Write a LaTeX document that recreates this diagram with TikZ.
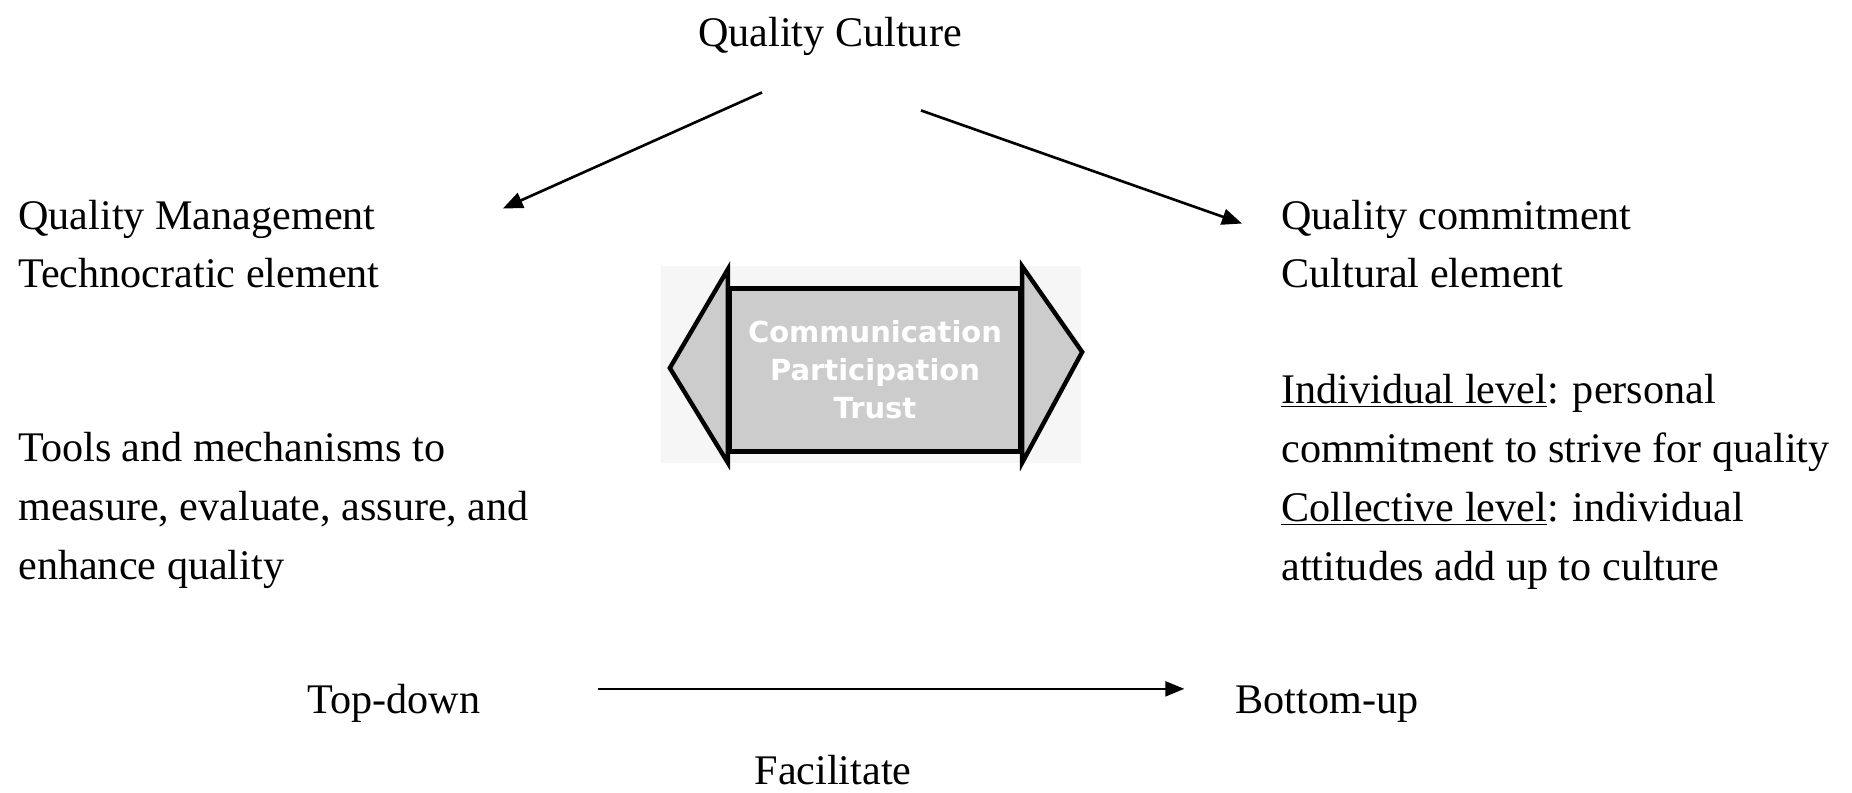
\documentclass[tikz,border=0pt]{standalone}
\usepackage{fontspec}
\setmainfont{Liberation Serif}
\newfontfamily\hubfont{DejaVu Sans}
\usepackage{tikz}
\usetikzlibrary{arrows.meta}
\tikzstyle{txt} = [inner sep=0pt, align=left, anchor=base west,
  font=\fontsize{24}{33.5}\selectfont]
\tikzstyle{ctxt} = [txt, anchor=base]
\tikzstyle{hubbox} = [rectangle, draw, line width=2.5pt, fill=gray!40,
  minimum width=5.8cm, minimum height=3.26cm, inner sep=0pt, align=center,
  text=white, font=\hubfont\bfseries\fontsize{16.5}{21.6}\selectfont]
\tikzstyle{head} = [draw, line width=2.5pt, fill=gray!40]
\tikzstyle{link} = [draw, line width=1.5pt, -{Triangle[length=0.4cm,width=0.32cm]}]
\tikzstyle{flow} = [draw, line width=1.3pt, -{Triangle[length=0.38cm,width=0.3cm]}]

\begin{document}
\begin{tikzpicture}[x=0.02cm, y=-0.02cm]
    \useasboundingbox (0,0) rectangle (1852,793);
    \fill[gray!7] (661,266) rectangle (1081,463);

    % base of a multi-line node = baseline of its last line
    \node[ctxt] (qc) at (830,47) {Quality Culture};
    \node[txt] (qm) at (18,288) {Quality Management\\Technocratic element};
    \node[txt] (tools) at (18,579) {Tools and mechanisms to\\measure, evaluate, assure, and\\enhance quality};
    \node[txt] (qcm) at (1281,288) {Quality commitment\\Cultural element};
    \node[txt] (lvl) at (1281,580) {\underline{Individual level}: personal\\commitment to strive for quality\\\underline{Collective level}: individual\\attitudes add up to culture};

    % double arrow in the middle
    \node[hubbox] (hub) at (875,370) {Communication\\Participation\\Trust};
    \path[head] ([yshift=0.34cm]hub.north west) -- ([shift={(-58,-2)}]hub.west)
      -- ([yshift=-0.18cm]hub.south west) -- cycle;
    \path[head] ([yshift=0.4cm]hub.north east) -- ([shift={(60,-18)}]hub.east)
      -- ([yshift=-0.18cm]hub.south east) -- cycle;

    \node[ctxt] (td) at (394,713) {Top-down};
    \node[ctxt] (bu) at (1327,713) {Bottom-up};
    \node[ctxt] (fac) at (833,784) {Facilitate};

    \path[link] ([shift={(-68,36)}]qc.south) -- ([shift={(123,9)}]qm.north east);
    \path[link] ([shift={(91,54)}]qc.south) -- ([shift={(-39,24)}]qcm.north west);
    \path[flow, shorten <=2.34cm, shorten >=1.02cm] ([yshift=0.28cm]td.east) -- ([yshift=0.28cm]td.east -| bu.west);
\end{tikzpicture}
\end{document}
